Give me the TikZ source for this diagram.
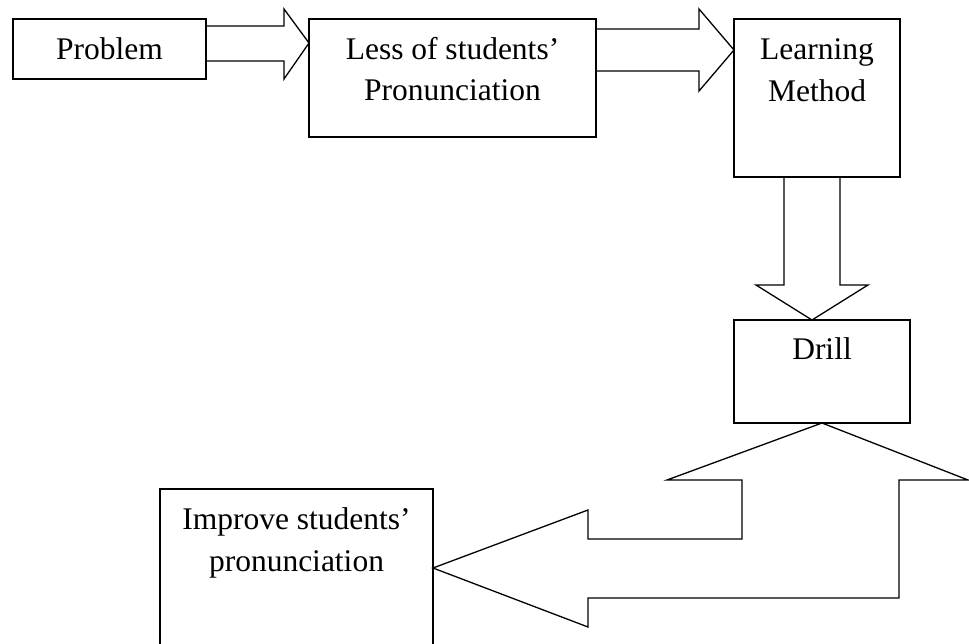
\documentclass[tikz,border=0pt]{standalone}
\usepackage{fontspec}
\setmainfont{Liberation Serif}
\usetikzlibrary{calc}
\begin{document}
\begin{tikzpicture}[x=1pt,y=-1pt,
  box/.style={draw,line width=1.3pt,inner sep=0pt,outer sep=0pt},
  blk/.style={draw,line width=1.3pt,line join=miter},
  txt/.style={inner sep=0pt,anchor=base,font=\fontsize{31.5}{38}\selectfont}]
\useasboundingbox (0,0) rectangle (969,644);
% boxes
\node[box,minimum width=193pt,minimum height=60pt] (prob) at (109.5,49) {};
\node[box,minimum width=287pt,minimum height=118pt] (less) at (452.5,78) {};
\node[box,minimum width=166pt,minimum height=158pt] (learn) at (817,98) {};
\node[box,minimum width=176pt,minimum height=103pt] (drill) at (822,371.5) {};
\node[box,minimum width=273pt,minimum height=180pt] (impr) at (296.5,579) {};
% texts
\node[txt] (tprob) at (109.5,60) {Problem};
\node[txt] (tless1) at (452.5,60) {Less of students’};
\node[txt] (tless2) at (452.5,101) {Pronunciation};
\node[txt] (tlearn1) at (817,60) {Learning};
\node[txt] (tlearn2) at (817,102) {Method};
\node[txt] (tdrill) at (822,359) {Drill};
\node[txt] (timpr1) at (296.5,529) {Improve students’};
\node[txt] (timpr2) at (296.5,571) {pronunciation};
% block arrow Problem -> Less
\draw[blk] (prob.east |- 0,26) -- (284,26) -- (284,9) -- (less.west |- 0,43)
  -- (284,79) -- (284,61) -- (prob.east |- 0,61);
% block arrow Less -> Learning
\draw[blk] (less.east |- 0,29) -- (699,29) -- (699,9) -- (learn.west |- 0,50)
  -- (699,91) -- (699,71) -- (less.east |- 0,71);
% block arrow Learning -> Drill
\draw[blk] (784,0 |- learn.south) -- (784,285) -- (756,285) -- (812,0 |- drill.north)
  -- (868,285) -- (840,285) -- (840,0 |- learn.south);
% L-shaped double block arrow Drill <-> Improve
\draw[blk] (drill.south) -- (968,480) -- (899,480) -- (899,598) -- (588,598)
  -- (588,627) -- (impr.east |- 0,568) -- (588,510) -- (588,539) -- (742,539)
  -- (742,480) -- (667,480) -- cycle;
\end{tikzpicture}
\end{document}
